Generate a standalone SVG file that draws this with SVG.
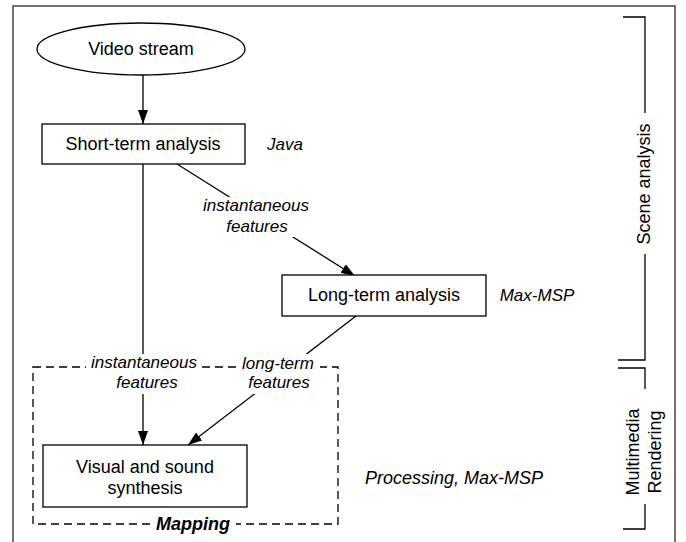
<svg xmlns="http://www.w3.org/2000/svg" width="686" height="542" viewBox="0 0 686 542">
<defs>
<style>
.node{fill:#fff;stroke:#000;stroke-width:1.3}
.t{font-family:"Liberation Sans",Arial,sans-serif;font-size:18px;fill:#000;text-anchor:middle}
.it{font-family:"Liberation Sans",Arial,sans-serif;font-size:17px;font-style:italic;fill:#000;text-anchor:middle}
.ln{fill:none;stroke:#000;stroke-width:1.3}
.bg{fill:#fff;stroke:none}
</style>
<marker id="ah" viewBox="0 0 14 10" refX="14" refY="5" markerWidth="14" markerHeight="10" markerUnits="userSpaceOnUse" orient="auto">
<path d="M0,0 L14,5 L0,10 Z" fill="#000"/>
</marker>
</defs>
<rect width="686" height="542" fill="#fff"/>
<rect x="13" y="6" width="662" height="545" fill="none" stroke="#444" stroke-width="1.5"/>

<g id="mapping">
<rect x="33" y="367" width="305" height="157" fill="none" stroke="#000" stroke-width="1.3" stroke-dasharray="8,5"/>
<rect class="bg" x="152" y="514" width="84" height="20"/>
<text x="193" y="530" font-family="'Liberation Sans',Arial,sans-serif" font-size="18" font-weight="bold" font-style="italic" text-anchor="middle">Mapping</text>
</g>

<g id="connectors">
<line class="ln" x1="143" y1="74" x2="143" y2="124" marker-end="url(#ah)"/>
<line class="ln" x1="143" y1="164" x2="143" y2="445" marker-end="url(#ah)"/>
<line class="ln" x1="177" y1="164" x2="355" y2="276" marker-end="url(#ah)"/>
<line class="ln" x1="356" y1="316" x2="188" y2="445" marker-end="url(#ah)"/>
<rect class="bg" x="86" y="354" width="116" height="40"/>
<text class="it" x="144" y="368">instantaneous</text>
<text class="it" x="147" y="388">features</text>
<rect class="bg" x="198" y="197" width="116" height="40"/>
<text class="it" x="256" y="211">instantaneous</text>
<text class="it" x="257" y="232">features</text>
<rect class="bg" x="238" y="354" width="82" height="40"/>
<text class="it" x="278" y="369">long-term</text>
<text class="it" x="279" y="388">features</text>
</g>

<g id="video-stream">
<ellipse class="node" cx="141" cy="49" rx="104" ry="26"/>
<text class="t" x="141" y="55">Video stream</text>
</g>

<g id="short-term">
<rect class="node" x="42" y="124" width="203" height="40"/>
<text class="t" x="143" y="150">Short-term analysis</text>
<text class="it" x="285" y="150">Java</text>
</g>

<g id="long-term">
<rect class="node" x="282" y="275" width="204" height="41"/>
<text class="t" x="384" y="301">Long-term analysis</text>
<text class="it" x="537" y="301">Max-MSP</text>
</g>

<g id="synthesis">
<rect class="node" x="43" y="445" width="204" height="62"/>
<text class="t" x="145" y="473">Visual and sound</text>
<text class="t" x="145" y="494">synthesis</text>
<text class="it" x="454" y="484" style="font-size:18px">Processing, Max-MSP</text>
</g>

<g id="scene-analysis">
<path class="ln" d="M623,17 H645 V113 M645,254 V360 H618"/>
<text class="t" transform="translate(650,184) rotate(-90)">Scene analysis</text>
</g>

<g id="multimedia-rendering">
<path class="ln" d="M618,368 H645 V389 M645,504 V529 H623"/>
<text class="t" transform="translate(639,452) rotate(-90)">Multimedia</text>
<text class="t" transform="translate(661,452) rotate(-90)">Rendering</text>
</g>
</svg>
